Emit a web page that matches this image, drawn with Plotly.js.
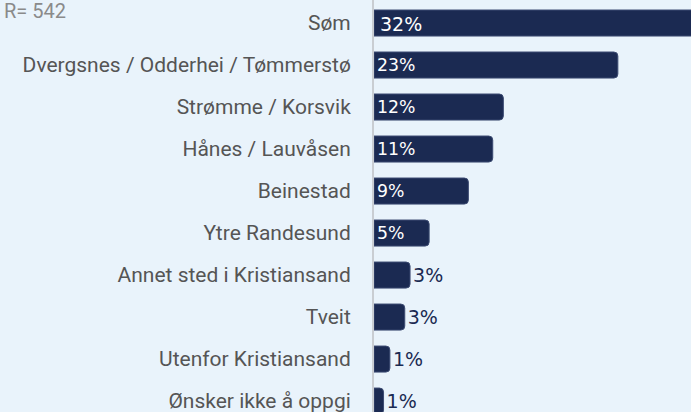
<!DOCTYPE html>
<html>
<head>
<meta charset="utf-8">
<script src="https://cdn.plot.ly/plotly-3.0.1.min.js"></script>
<style>
  html, body { margin: 0; padding: 0; background: #e9f3fb; }
  #chart { width: 691px; height: 412px; }
</style>
</head>
<body>
<div id="chart"></div>
<script>
// area shares (percent)
var places = ["Søm", "Dvergsnes / Odderhei / Tømmerstø", "Strømme / Korsvik", "Hånes / Lauvåsen",
              "Beinestad", "Ytre Randesund", "Annet sted i Kristiansand", "Tveit",
              "Utenfor Kristiansand", "Ønsker ikke å oppgi"];
var shares = [32, 23, 12.2, 11.2, 8.9, 5.2, 3.4, 2.9, 1.5, 0.9];
var shareLabels = ["32%", "23%", "12%", "11%", "9%", "5%", "3%", "3%", "1%", "1%"];
var sampleNote = "R= 542";

var navy = "#1b2a52";
var xMax = 29.9;   // the first bar runs off the right edge, like the original

// bars that run past the edge get their label as an annotation instead
var barText = shareLabels.map(function (t, i) { return shares[i] > xMax ? "" : t; });
var positions = shares.map(function (v) { return v >= 5 ? "inside" : "outside"; });
var colors = shares.map(function (v) { return v >= 5 ? "#ffffff" : navy; });

var trace = {
    type: "bar",
    orientation: "h",
    y: places,
    x: shares,
    width: 0.62,
    text: barText,
    textposition: positions,
    insidetextanchor: "start",
    textangle: 0,
    constraintext: "none",
    cliponaxis: false,
    textfont: { family: "DejaVu Sans", size: 19, color: colors },
    marker: { color: navy, cornerradius: 4, line: { color: "#3c4b72", width: 1 } },
    hoverinfo: "skip"
};

var notes = [{
    text: sampleNote,
    xref: "paper", yref: "paper",
    x: -374 / 317, y: 1,
    xanchor: "left", yanchor: "top",
    yshift: 3, xshift: 2,
    showarrow: false,
    font: { family: "Roboto", size: 20, color: "#8a8a8a" }
}];
shares.forEach(function (v, i) {
    if (v > xMax) {
        notes.push({
            text: shareLabels[i],
            x: 0, y: places[i],
            xanchor: "left", yanchor: "middle",
            xshift: 4, yshift: -1,
            showarrow: false,
            font: { family: "DejaVu Sans", size: 19, color: "#ffffff" }
        });
    }
});

var layout = {
    width: 691,
    height: 412,
    paper_bgcolor: "#e9f3fb",
    plot_bgcolor: "#e9f3fb",
    margin: { l: 374, r: 0, t: 0, b: 0 },
    showlegend: false,
    xaxis: {
        range: [0, xMax],
        showgrid: false,
        zeroline: false,
        showticklabels: false,
        fixedrange: true
    },
    yaxis: {
        type: "category",
        range: [9.26, -0.548],
        showgrid: false,
        zeroline: false,
        showline: true,
        linecolor: "#c9cdd2",
        linewidth: 2,
        ticks: "",
        ticklabelstandoff: 17,
        tickfont: { family: "Roboto", size: 21, color: "#555555" }
    },
    annotations: notes
};

Plotly.newPlot("chart", [trace], layout, { displayModeBar: false, staticPlot: true });
</script>
</body>
</html>
